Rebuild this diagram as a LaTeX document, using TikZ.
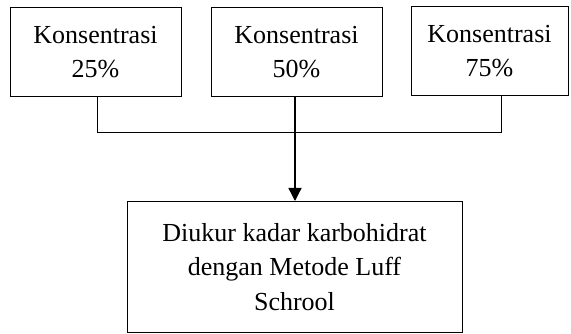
\documentclass[tikz,border=0pt]{standalone}
\usepackage{fontspec}
\setmainfont{Liberation Serif}
\usetikzlibrary{arrows.meta}
\begin{document}
\begin{tikzpicture}[x=1pt,y=1pt,
	kotak/.style={draw,line width=1pt,align=center,inner sep=0pt,
		font=\fontsize{26}{34.5}\selectfont}]
	\useasboundingbox (0,0) rectangle (571,334);
	% Konsentrasi
	\node[kotak,minimum width=171,minimum height=89] (k25) at (95.5,282) {Konsentrasi\\25\%};
	\node[kotak,minimum width=171,minimum height=89] (k50) at (296.5,282) {Konsentrasi\\50\%};
	\node[kotak,minimum width=157,minimum height=89] (k75) at (489.5,283) {Konsentrasi\\75\%};

	% Hasil
	\node[kotak,minimum width=335,minimum height=131] (ukur) at (294.5,67) {Diukur kadar karbohidrat\\dengan Metode Luff\\Schrool};

	\coordinate (kiri) at ([xshift=1.5]k25.south |- 0,201);
	\coordinate (kanan) at ([xshift=11.5]k75.south |- 0,201);
	\draw[line width=1pt] ([xshift=1.5]k25.south) -- (kiri) -- (kanan) -- ([xshift=11.5]k75.south);
	\draw[line width=1.3pt,-{Triangle[length=13pt,width=13pt]}] ([xshift=-1.5]k50.south) -- ([xshift=0.5]ukur.north);
\end{tikzpicture}
\end{document}
